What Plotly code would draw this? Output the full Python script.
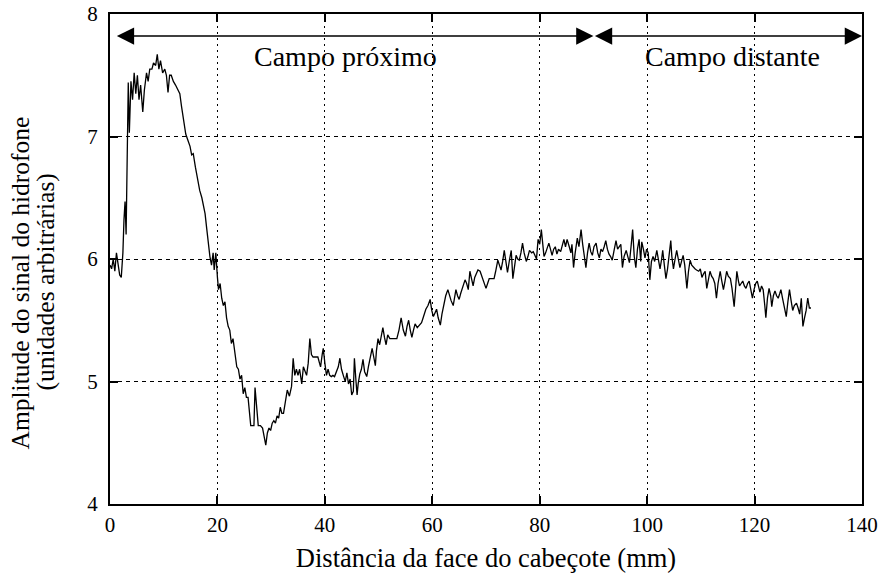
import plotly.graph_objects as go

# Distance from transducer face (mm) and hydrophone signal amplitude (arb. units)
distance_mm = [
    0.0, 0.3, 0.6, 0.9, 1.2, 1.5, 1.8, 2.1, 2.4, 2.6, 2.8, 3.0, 3.2, 3.4, 3.6, 3.9,
    4.2, 4.5, 4.8, 5.1, 5.4, 5.7, 6.1, 6.4, 6.8, 7.1, 7.4, 7.8, 8.1, 8.5, 8.8, 9.1,
    9.4, 9.8, 10.2, 10.5, 10.8, 11.1, 11.4, 11.8, 12.2, 12.6, 13.0, 13.3, 13.7, 14.1,
    14.5, 14.9, 15.2, 15.5, 15.9, 16.3, 16.7, 17.1, 17.4, 17.7, 18.0, 18.3, 18.6, 18.9,
    19.2, 19.4, 19.7, 20.0, 20.2, 20.5, 20.8, 21.1, 21.4, 21.7, 22.0, 22.3, 22.6, 22.9,
    23.3, 23.6, 23.9, 24.2, 24.5, 24.8, 25.1, 25.4, 25.7, 26.0, 26.2, 26.5, 26.8, 27.0,
    27.3, 27.6, 28.0, 28.4, 28.7, 29.0, 29.3, 29.6, 29.9, 30.2, 30.5, 30.8, 31.1, 31.4,
    31.7, 32.0, 32.3, 32.7, 33.0, 33.4, 33.8, 34.1, 34.4, 34.7, 35.0, 35.3, 35.7, 36.0,
    36.3, 36.6, 36.9, 37.2, 37.5, 37.8, 38.2, 38.7, 39.0, 39.2, 39.5, 39.7, 40.0, 40.3,
    40.6, 40.9, 41.2, 41.5, 41.8, 42.1, 42.5, 42.8, 43.1, 43.5, 43.8, 44.1, 44.4, 44.7,
    45.0, 45.3, 45.5, 45.8, 46.0, 46.2, 46.5, 46.8, 47.1, 47.4, 47.8, 48.1, 48.4, 48.8,
    49.1, 49.4, 49.6, 49.9, 50.2, 50.5, 50.8, 51.1, 51.4, 51.7, 52.1, 52.5, 52.9, 53.4,
    53.8, 54.2, 54.6, 55.0, 55.3, 55.6, 55.9, 56.2, 56.5, 56.8, 57.2, 57.7, 58.0, 58.3,
    58.5, 58.8, 59.2, 59.6, 59.9, 60.2, 60.5, 60.8, 61.1, 61.5, 61.8, 62.2, 62.5, 62.9,
    63.2, 63.5, 63.9, 64.2, 64.4, 64.7, 65.0, 65.3, 65.7, 66.1, 66.4, 66.7, 67.0, 67.3,
    67.6, 67.9, 68.2, 68.5, 68.9, 69.2, 69.4, 69.7, 70.0, 70.3, 70.6, 71.0, 71.5, 71.8,
    72.2, 72.5, 72.8, 73.1, 73.4, 73.7, 74.0, 74.4, 74.7, 75.0, 75.3, 75.6, 75.9, 76.2,
    76.5, 76.8, 77.1, 77.5, 77.8, 78.1, 78.5, 78.8, 79.1, 79.4, 79.7, 80.0, 80.3, 80.6,
    80.8, 81.1, 81.4, 81.7, 82.0, 82.3, 82.6, 82.9, 83.2, 83.5, 83.9, 84.2, 84.5, 84.8,
    85.1, 85.5, 85.8, 86.0, 86.3, 86.6, 87.0, 87.3, 87.7, 88.0, 88.3, 88.6, 88.9, 89.2,
    89.5, 89.8, 90.1, 90.5, 90.8, 91.1, 91.4, 91.7, 92.0, 92.3, 92.6, 92.9, 93.2, 93.5,
    93.8, 94.2, 94.5, 94.8, 95.1, 95.4, 95.7, 96.1, 96.4, 96.7, 97.0, 97.3, 97.6, 97.9,
    98.2, 98.5, 98.8, 99.0, 99.3, 99.6, 99.9, 100.2, 100.5, 100.8, 101.1, 101.4, 101.8, 102.1,
    102.4, 102.7, 102.9, 103.2, 103.5, 103.8, 104.0, 104.4, 104.6, 104.9, 105.2, 105.5, 105.8, 106.1,
    106.4, 106.7, 107.0, 107.4, 107.7, 108.0, 108.3, 108.6, 108.9, 109.2, 109.6, 109.9, 110.2, 110.5,
    110.8, 111.1, 111.4, 111.7, 112.0, 112.3, 112.6, 112.9, 113.2, 113.6, 113.9, 114.2, 114.5, 114.8,
    115.1, 115.5, 115.8, 116.2, 116.5, 116.7, 117.0, 117.2, 117.5, 117.8, 118.1, 118.4, 118.7, 119.0,
    119.3, 119.6, 119.9, 120.2, 120.5, 120.8, 121.0, 121.3, 121.6, 121.9, 122.1, 122.4, 122.7, 123.0,
    123.2, 123.5, 123.8, 124.1, 124.4, 124.7, 124.9, 125.2, 125.6, 125.9, 126.2, 126.5, 126.8, 127.1,
    127.4, 127.8, 128.1, 128.4, 128.7, 129.0, 129.3, 129.6, 129.9, 130.2, 130.5,
]

amplitude = [
    5.95, 5.92, 6.00, 5.90, 6.05, 5.95, 5.87, 5.85, 6.05, 6.32, 6.47, 6.20, 7.10, 7.44, 7.03, 7.45,
    7.30, 7.52, 7.35, 7.50, 7.30, 7.42, 7.20, 7.38, 7.52, 7.45, 7.55, 7.55, 7.60, 7.58, 7.67, 7.55,
    7.62, 7.52, 7.55, 7.50, 7.36, 7.50, 7.50, 7.45, 7.42, 7.38, 7.35, 7.25, 7.12, 7.02,
    6.97, 6.92, 6.85, 6.86, 6.75, 6.65, 6.56, 6.50, 6.42, 6.37, 6.25, 6.12, 6.02, 5.95,
    6.05, 5.91, 6.05, 5.85, 5.75, 5.80, 5.68, 5.62, 5.65, 5.52, 5.45, 5.42, 5.31, 5.35,
    5.20, 5.12, 5.10, 5.02, 5.05, 4.90, 4.95, 4.87, 4.87, 4.72, 4.64, 4.64, 4.64, 4.95,
    4.75, 4.64, 4.64, 4.62, 4.55, 4.48, 4.58, 4.62, 4.60, 4.66, 4.68, 4.66, 4.72, 4.70,
    4.79, 4.74, 4.74, 4.85, 4.93, 4.88, 4.96, 5.19, 5.05, 5.10, 5.05, 5.10, 4.98, 5.12,
    5.08, 5.05, 5.15, 5.35, 5.22, 5.20, 5.20, 5.20, 5.15, 5.12, 5.22, 5.27, 5.15, 5.05,
    5.10, 5.05, 5.04, 5.05, 5.04, 5.08, 5.12, 5.19, 5.10, 5.04, 5.00, 5.07, 4.98, 5.02,
    4.89, 4.92, 5.19, 5.00, 4.89, 4.98, 5.06, 5.10, 5.18, 5.08, 5.04, 5.12, 5.18, 5.27,
    5.20, 5.13, 5.25, 5.35, 5.30, 5.38, 5.44, 5.36, 5.30, 5.38, 5.35, 5.35, 5.35, 5.35,
    5.42, 5.52, 5.42, 5.37, 5.45, 5.50, 5.42, 5.36, 5.42, 5.47, 5.44, 5.46, 5.48, 5.52,
    5.55, 5.59, 5.62, 5.67, 5.58, 5.53, 5.56, 5.59, 5.52, 5.46, 5.55, 5.64, 5.70, 5.75,
    5.70, 5.66, 5.62, 5.70, 5.75, 5.70, 5.67, 5.72, 5.78, 5.83, 5.80, 5.75, 5.90, 5.84,
    5.78, 5.85, 5.88, 5.91, 5.90, 5.86, 5.84, 5.80, 5.76, 5.80, 5.84, 5.84, 5.84, 5.90,
    5.99, 5.95, 5.91, 5.98, 6.07, 5.98, 5.89, 6.00, 6.07, 5.84, 5.95, 6.03, 6.00, 5.99,
    6.05, 6.13, 6.05, 5.98, 6.02, 6.07, 6.05, 6.06, 6.03, 6.00, 6.16, 6.12, 6.24, 6.10,
    6.02, 6.05, 6.10, 6.13, 6.08, 6.03, 6.08, 6.10, 6.04, 6.08, 6.06, 6.12, 6.16, 6.10,
    6.16, 6.10, 6.05, 6.12, 5.93, 6.05, 6.17, 6.10, 6.24, 6.12, 6.02, 5.93, 6.05, 6.13,
    6.06, 6.03, 6.10, 6.13, 6.05, 6.01, 6.08, 6.06, 6.10, 6.15, 6.08, 6.04, 6.02, 5.99,
    6.06, 6.15, 6.08, 6.10, 6.12, 5.93, 6.02, 6.07, 6.02, 5.97, 6.10, 6.24, 6.02, 5.93,
    6.08, 6.16, 5.98, 6.14, 6.08, 6.01, 6.08, 6.05, 5.83, 5.98, 6.02, 5.98, 6.07, 6.00,
    5.92, 6.00, 6.07, 5.95, 5.84, 5.92, 5.99, 6.15, 6.02, 5.92, 6.00, 6.07, 6.00, 5.93,
    5.98, 6.03, 5.95, 5.76, 5.90, 5.99, 5.95, 5.93, 5.92, 5.91, 5.90, 5.92, 5.85, 5.88,
    5.90, 5.76, 5.85, 5.90, 5.86, 5.84, 5.80, 5.68, 5.80, 5.90, 5.82, 5.75, 5.82, 5.90,
    5.86, 5.84, 5.76, 5.61, 5.78, 5.90, 5.82, 5.78, 5.80, 5.82, 5.78, 5.76, 5.80, 5.82,
    5.75, 5.68, 5.75, 5.80, 5.82, 5.76, 5.73, 5.78, 5.75, 5.62, 5.52, 5.68, 5.76, 5.70,
    5.61, 5.70, 5.74, 5.70, 5.68, 5.72, 5.75, 5.68, 5.60, 5.53, 5.65, 5.75, 5.66, 5.58,
    5.62, 5.64, 5.60, 5.55, 5.68, 5.45, 5.52, 5.58, 5.68, 5.60, 5.60,
]

x_ticks = [0, 20, 40, 60, 80, 100, 120, 140]
y_ticks = [4, 5, 6, 7, 8]

x_title = "Distância da face do cabeçote (mm)"
y_title_lines = ["Amplitude do sinal do hidrofone", "(unidades arbitrárias)"]

# Field regions (mm) and the label for each
region_bounds = [(1.0, 90.0), (90.0, 140.0)]
region_labels = ["Campo próximo", "Campo distante"]
region_label_x = [43.8, 115.8]
arrow_level = 7.82
label_level = 7.65

FONT = "Liberation Serif"

fig = go.Figure()
fig.add_trace(go.Scatter(
    x=distance_mm, y=amplitude, mode="lines",
    line=dict(color="black", width=1.3), showlegend=False,
))

for (x0, x1) in region_bounds:
    fig.add_annotation(
        x=x1, y=arrow_level, ax=x0, ay=arrow_level,
        xref="x", yref="y", axref="x", ayref="y",
        text="", showarrow=True, arrowside="end+start",
        arrowhead=2, arrowsize=2.3, arrowwidth=1.5, arrowcolor="black",
    )
for lbl, lx in zip(region_labels, region_label_x):
    fig.add_annotation(
        x=lx, y=label_level, xref="x", yref="y", text=lbl, showarrow=False,
        font=dict(family=FONT, size=28, color="black"),
    )

# two-line rotated y-axis title
for line, (px, py) in zip(y_title_lines, [(-0.1184, 0.452), (-0.0851, 0.452)]):
    fig.add_annotation(
        x=px, y=py, xref="paper", yref="paper", text=line, showarrow=False,
        textangle=-90, xanchor="center", yanchor="middle",
        font=dict(family=FONT, size=25.5, color="black"),
    )

axis_common = dict(
    showline=True, linecolor="black", linewidth=2, mirror="ticks",
    ticks="inside", ticklen=8, tickwidth=1.5, tickcolor="black",
    showgrid=True, gridcolor="black", gridwidth=1.3,
    zeroline=False, automargin=False,
    tickfont=dict(family=FONT, size=21, color="black"),
)

fig.update_xaxes(
    range=[0, 140], tickvals=x_ticks, griddash="2px,4px", ticklabelstandoff=1,
    title=dict(text=x_title, font=dict(family=FONT, size=26.5, color="black"), standoff=12),
    **axis_common,
)
fig.update_yaxes(
    range=[4, 8], tickvals=y_ticks, griddash="4px,4px", ticklabelstandoff=6,
    **axis_common,
)

fig.update_layout(
    template="none",
    width=883, height=575,
    margin=dict(l=110, r=21, t=14, b=71),
    paper_bgcolor="white", plot_bgcolor="white",
)

fig.write_html("out.html")
